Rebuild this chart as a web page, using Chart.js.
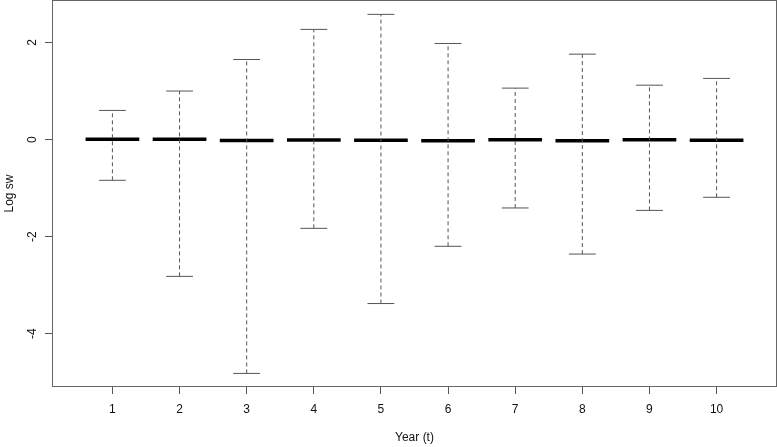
<!DOCTYPE html>
<html>
<head>
<meta charset="utf-8">
<script src="https://cdn.jsdelivr.net/npm/chart.js@4"></script>
<style>
  html, body { margin: 0; padding: 0; background: #fff; }
  #wrap { width: 777px; height: 447px; position: relative; }
</style>
</head>
<body>
<div id="wrap"><canvas id="myChart"></canvas></div>
<script>
const years = [1, 2, 3, 4, 5, 6, 7, 8, 9, 10];
const upper = [0.60, 1.00, 1.65, 2.27, 2.58, 1.98, 1.06, 1.76, 1.12, 1.26];
const lower = [-0.84, -2.82, -4.82, -1.83, -3.38, -2.20, -1.41, -2.36, -1.46, -1.19];
const median = [0.005, 0.005, -0.02, -0.01, -0.015, -0.025, -0.005, -0.025, -0.005, -0.015];
const yTicks = [-4, -2, 0, 2];

const lineGray = '#555';
const textCol = '#111';
const font = { family: "'Liberation Sans', Arial, sans-serif", size: 12 };

const datasets = [];
years.forEach((yr, i) => {
  // dashed whisker
  datasets.push({
    data: [{ x: yr, y: lower[i] }, { x: yr, y: upper[i] }],
    borderColor: lineGray, borderWidth: 1, borderDash: [4, 3]
  });
  // caps
  datasets.push({
    data: [{ x: yr - 0.2, y: upper[i] }, { x: yr + 0.2, y: upper[i] }],
    borderColor: lineGray, borderWidth: 1
  });
  datasets.push({
    data: [{ x: yr - 0.2, y: lower[i] }, { x: yr + 0.2, y: lower[i] }],
    borderColor: lineGray, borderWidth: 1
  });
  // median
  datasets.push({
    data: [{ x: yr - 0.4, y: median[i] }, { x: yr + 0.4, y: median[i] }],
    borderColor: '#000', borderWidth: 3.5, borderCapStyle: 'butt'
  });
});
datasets.forEach(d => { d.showLine = true; d.pointRadius = 0; d.fill = false; });

const boxPlugin = {
  id: 'plotBox',
  afterDatasetsDraw(chart) {
    const { ctx, chartArea: a } = chart;
    ctx.save();
    ctx.strokeStyle = '#666';
    ctx.lineWidth = 1;
    ctx.strokeRect(a.left + 0.5, a.top + 0.5, a.right - a.left - 1, a.bottom - a.top - 1);
    ctx.restore();
  }
};

new Chart(document.getElementById('myChart'), {
  type: 'scatter',
  data: { datasets: datasets },
  plugins: [boxPlugin],
  options: {
    responsive: true,
    maintainAspectRatio: false,
    animation: false,
    layout: { padding: 0 },
    plugins: { legend: { display: false }, tooltip: { enabled: false } },
    scales: {
      x: {
        type: 'linear',
        min: 0.1,
        max: 10.9,
        afterBuildTicks: s => { s.ticks = years.map(v => ({ value: v })); },
        afterFit: s => { s.height = 60; s.paddingLeft = 0; s.paddingRight = 0; },
        grid: { drawOnChartArea: false, drawTicks: true, tickLength: 7, color: lineGray },
        border: { display: false },
        ticks: { color: textCol, font: font, padding: 8, maxRotation: 0, minRotation: 0 },
        title: { display: true, text: 'Year (t)', color: textCol, font: font, padding: { top: 0, bottom: 2 } }
      },
      y: {
        type: 'linear',
        min: -5.10,
        max: 2.876,
        afterBuildTicks: s => { s.ticks = yTicks.map(v => ({ value: v })); },
        afterFit: s => { s.width = 52; s.paddingTop = 0; s.paddingBottom = 0; },
        grid: { drawOnChartArea: false, drawTicks: true, tickLength: 7, color: lineGray },
        border: { display: false },
        ticks: { color: textCol, font: font, padding: 7, minRotation: 90, maxRotation: 90, crossAlign: 'center' },
        title: { display: true, text: 'Log sw', color: textCol, font: font, padding: { top: 2, bottom: 0 } }
      }
    }
  }
});
</script>
</body>
</html>
